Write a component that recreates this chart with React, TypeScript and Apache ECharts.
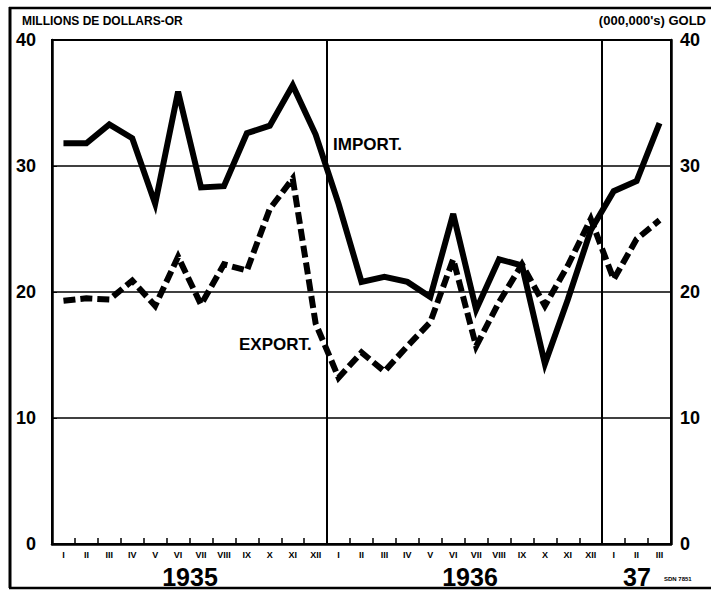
import React, { useEffect, useRef } from "react";
import * as echarts from "echarts";

const months = [
  "I", "II", "III", "IV", "V", "VI", "VII", "VIII", "IX", "X", "XI", "XII",
  "I", "II", "III", "IV", "V", "VI", "VII", "VIII", "IX", "X", "XI", "XII",
  "I", "II", "III",
];
const categories = months.map((m, i) => `${i < 12 ? 1935 : i < 24 ? 1936 : 1937}-${m}`);
const importValues = [
  31.8, 31.8, 33.3, 32.2, 27.0, 35.9, 28.3, 28.4, 32.6, 33.2, 36.4, 32.5,
  27.0, 20.8, 21.2, 20.8, 19.6, 26.2, 18.6, 22.6, 22.1, 14.3, 19.4, 24.9,
  28.0, 28.8, 33.4,
];
const exportValues = [
  19.3, 19.5, 19.4, 20.9, 18.9, 22.8, 19.0, 22.2, 21.7, 26.6, 29.0, 17.5,
  13.2, 15.2, 13.7, 15.7, 17.6, 22.6, 15.7, 19.2, 22.2, 18.9, 22.1, 25.8,
  21.0, 24.2, 25.7,
];
const yearBreaks = [12, 24];
const FONT = "'Liberation Sans', 'DejaVu Sans', sans-serif";

export default function App() {
  const ref = useRef<HTMLDivElement>(null);
  useEffect(() => {
    document.body.style.margin = "0";
    if (!ref.current) return;
    const chart = echarts.init(ref.current, null, { renderer: "svg" });
    const yLabel = {
      fontFamily: FONT,
      fontWeight: "bold",
      fontSize: 18,
      color: "#000",
    };
    chart.setOption({
      animation: false,
      backgroundColor: "#fff",
      grid: {
        left: 52,
        right: 40,
        top: 40,
        bottom: 50,
        show: true,
        borderColor: "#000",
        borderWidth: 2,
      },
      xAxis: {
        type: "category",
        data: categories,
        boundaryGap: true,
        axisLine: { show: true, lineStyle: { color: "#000", width: 2.5 } },
        axisTick: {
          show: true,
          inside: true,
          length: 6,
          lineStyle: { color: "#000", width: 1.5 },
        },
        axisLabel: {
          interval: 0,
          margin: 6,
          formatter: (_v: string, i: number) => months[i],
          fontFamily: FONT,
          fontWeight: "bold",
          fontSize: 9,
          color: "#000",
        },
        splitLine: {
          show: true,
          interval: (i: number) => yearBreaks.includes(i),
          lineStyle: { color: "#000", width: 2 },
        },
      },
      yAxis: [
        {
          type: "value",
          min: 0,
          max: 40,
          interval: 10,
          position: "left",
          axisLine: { show: true, lineStyle: { color: "#000", width: 2.5 } },
          axisTick: { show: true, inside: true, length: 5, lineStyle: { color: "#000" } },
          axisLabel: { ...yLabel, margin: 16 },
          splitLine: { show: true, lineStyle: { color: "#000", width: 1.5 } },
        },
        {
          type: "value",
          min: 0,
          max: 40,
          interval: 10,
          position: "right",
          axisLine: { show: true, lineStyle: { color: "#000", width: 2.5 } },
          axisTick: { show: false },
          axisLabel: { ...yLabel, margin: 9 },
          splitLine: { show: false },
        },
      ],
      series: [
        {
          name: "IMPORT.",
          type: "line",
          data: importValues,
          symbol: "none",
          lineStyle: { color: "#000", width: 6, join: "miter" },
        },
        {
          name: "EXPORT.",
          type: "line",
          data: exportValues,
          symbol: "none",
          lineStyle: { color: "#000", width: 6, type: [12, 5], join: "miter" },
        },
      ],
      graphic: [
        { type: "line", shape: { x1: 9, y1: 8, x2: 711, y2: 8 }, style: { stroke: "#000", lineWidth: 2.5 } },
        { type: "line", shape: { x1: 10, y1: 7, x2: 10, y2: 588 }, style: { stroke: "#000", lineWidth: 3 } },
        { type: "line", shape: { x1: 9, y1: 588, x2: 711, y2: 588 }, style: { stroke: "#000", lineWidth: 2.5 } },
        {
          type: "text",
          x: 22,
          y: 15,
          style: { text: "MILLIONS DE DOLLARS-OR", font: `bold 12px ${FONT}`, fill: "#000" },
        },
        {
          type: "text",
          x: 706,
          y: 14,
          style: { text: "(000,000's) GOLD", font: `bold 13px ${FONT}`, fill: "#000", align: "right" },
        },
        {
          type: "text",
          x: 333,
          y: 136,
          style: { text: "IMPORT.", font: `bold 17px ${FONT}`, fill: "#000" },
        },
        {
          type: "text",
          x: 239,
          y: 336,
          style: { text: "EXPORT.", font: `bold 17px ${FONT}`, fill: "#000" },
        },
        {
          type: "text",
          x: 190,
          y: 564,
          style: { text: "1935", font: `bold 25px ${FONT}`, fill: "#000", align: "center" },
        },
        {
          type: "text",
          x: 470,
          y: 564,
          style: { text: "1936", font: `bold 25px ${FONT}`, fill: "#000", align: "center" },
        },
        {
          type: "text",
          x: 637,
          y: 564,
          style: { text: "37", font: `bold 25px ${FONT}`, fill: "#000", align: "center" },
        },
        {
          type: "text",
          x: 664,
          y: 576,
          style: { text: "SDN 7851", font: `bold 6px ${FONT}`, fill: "#000" },
        },
      ],
    });
    return () => chart.dispose();
  }, []);
  return <div ref={ref} style={{ width: 711, height: 594 }} />;
}
